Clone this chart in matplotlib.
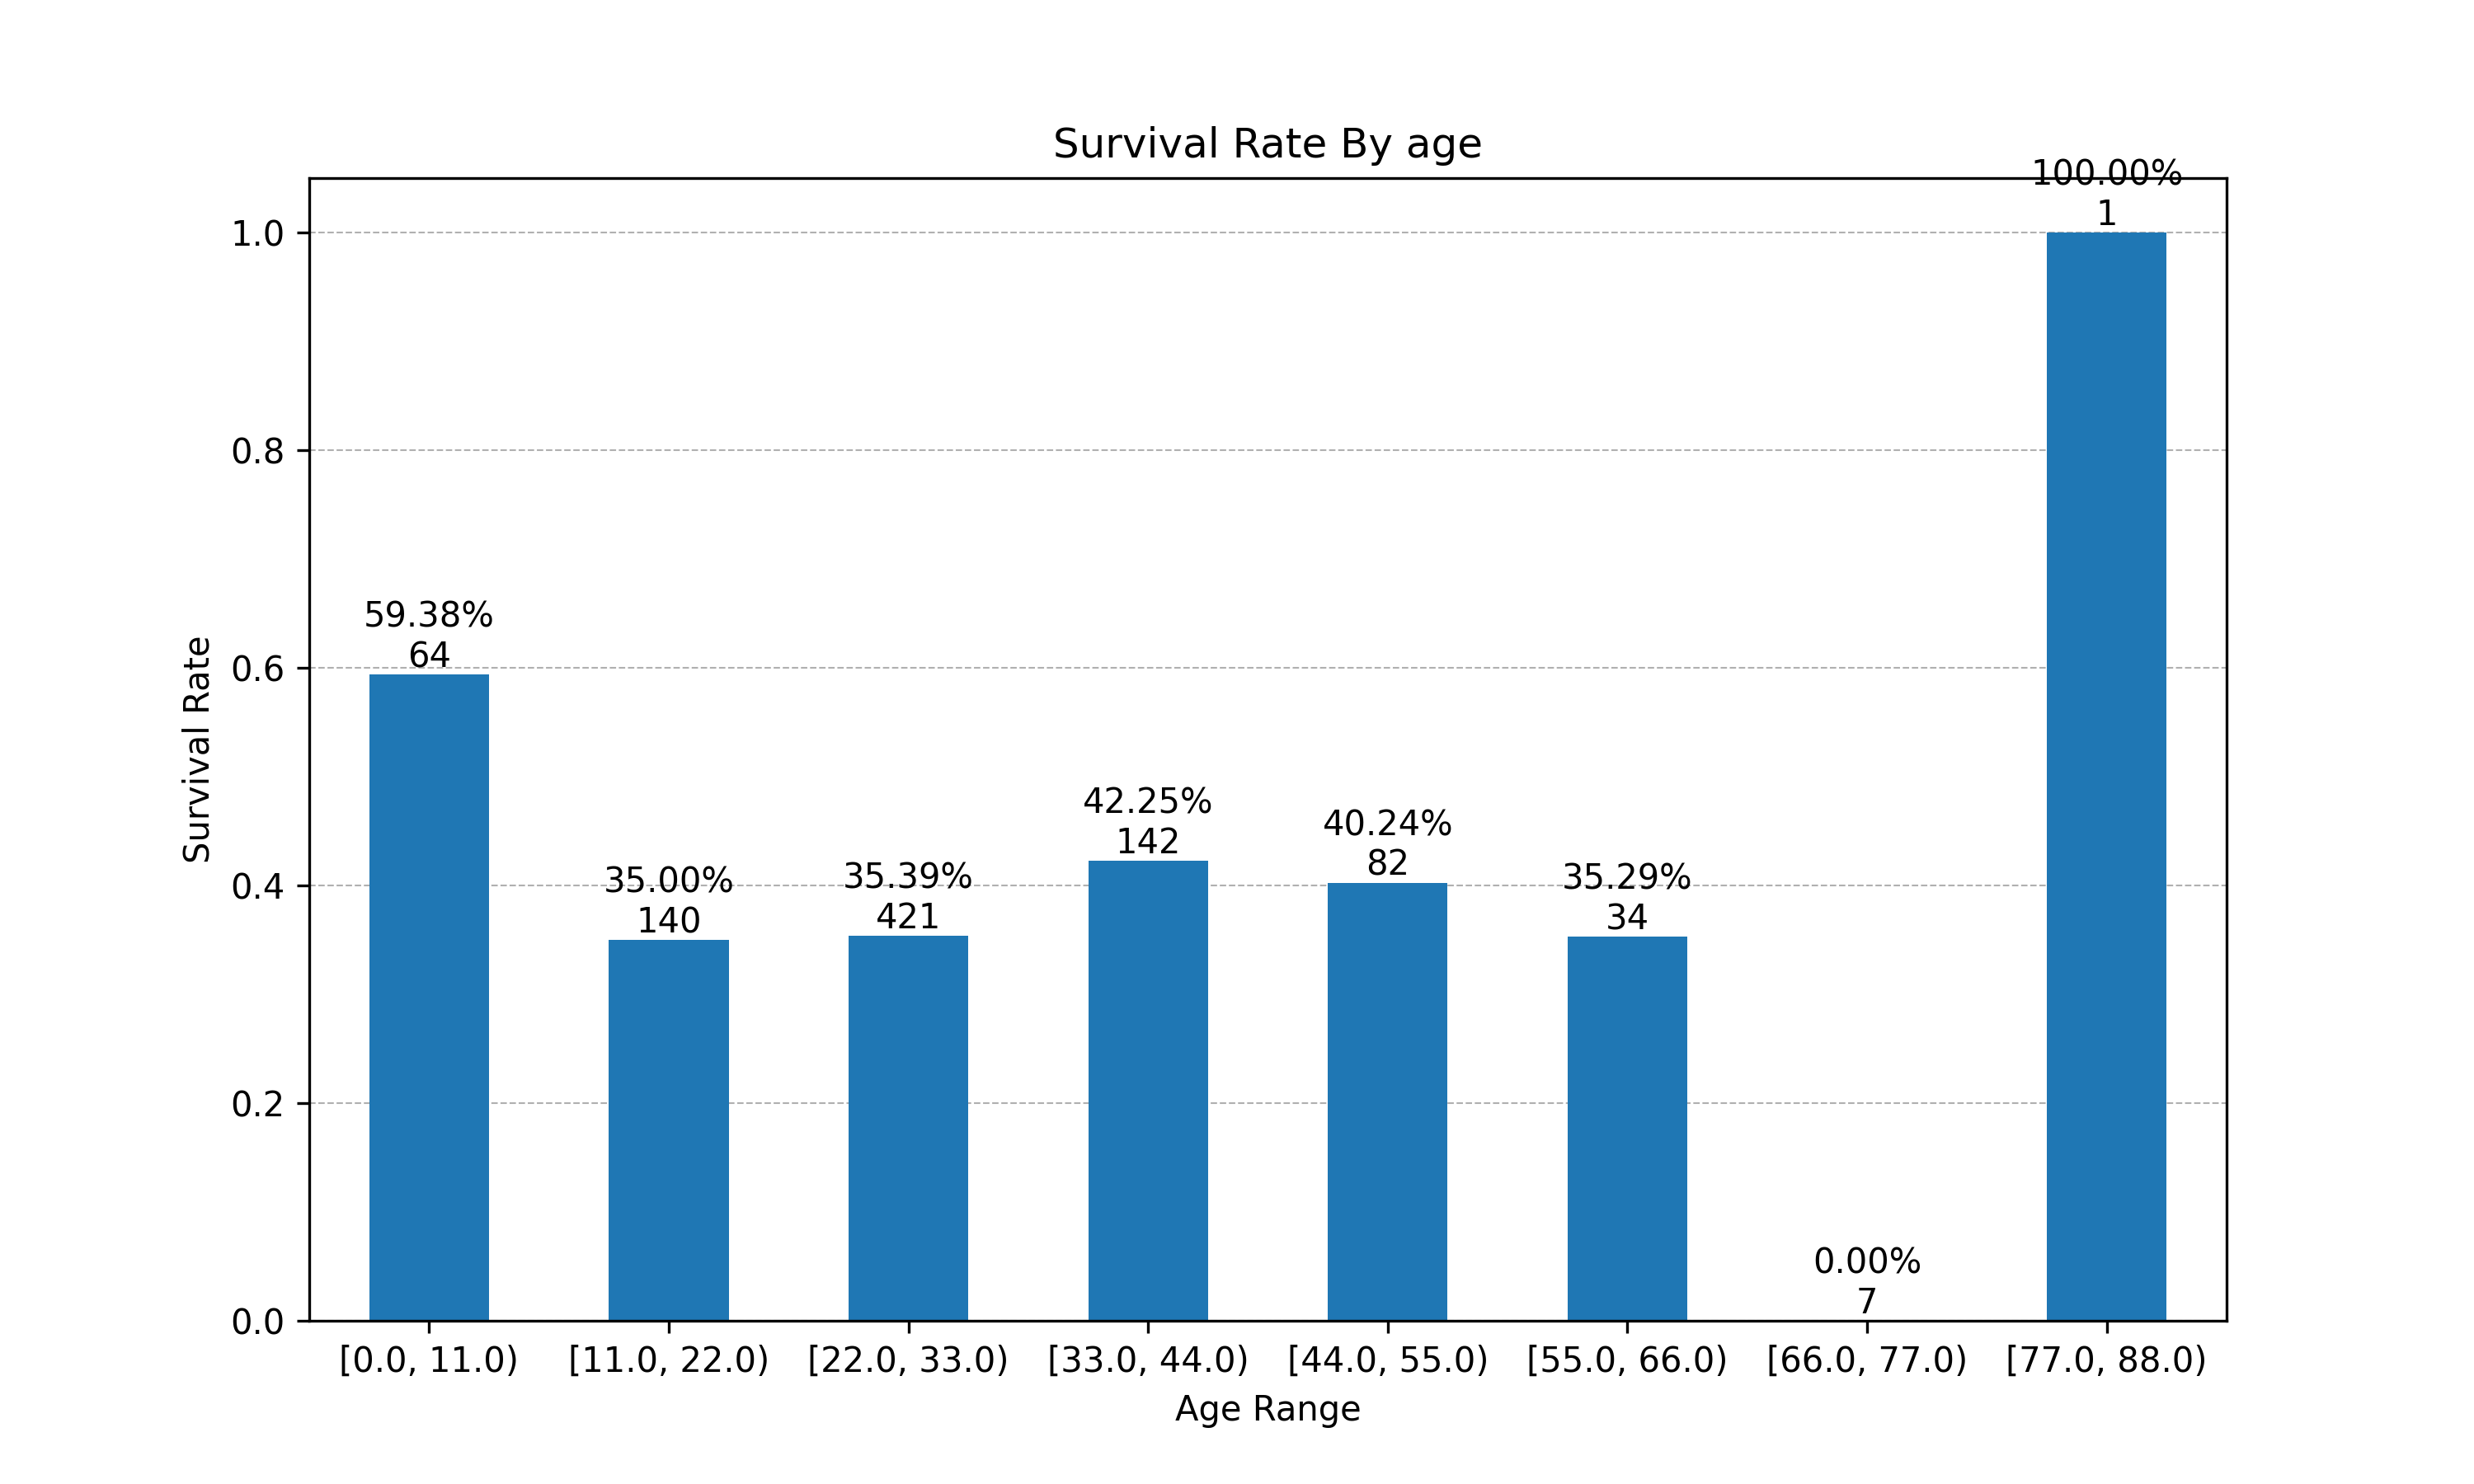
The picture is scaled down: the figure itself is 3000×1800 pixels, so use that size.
import matplotlib
matplotlib.use('Agg')
import matplotlib.pyplot as plt
import numpy as np

# Age bins and survival data
age_ranges = ['[0.0, 11.0)', '[11.0, 22.0)', '[22.0, 33.0)', '[33.0, 44.0)',
              '[44.0, 55.0)', '[55.0, 66.0)', '[66.0, 77.0)', '[77.0, 88.0)']
survival_rate = [0.5938, 0.3500, 0.3539, 0.4225, 0.4024, 0.3529, 0.0, 1.0]
counts = [64, 140, 421, 142, 82, 34, 7, 1]

fig, ax = plt.subplots(figsize=(10, 6))
x = np.arange(len(age_ranges))
bars = ax.bar(x, survival_rate, width=0.5, color='#1f77b4')

# Annotate each bar with rate and count
for xi, rate, n in zip(x, survival_rate, counts):
    ax.text(xi, rate, f"{rate * 100:.2f}%\n{n}", ha='center', va='bottom')

ax.set_xticks(x)
ax.set_xticklabels(age_ranges)
ax.set_xlim(-0.5, len(age_ranges) - 0.5)
ax.set_xlabel("Age Range")
ax.set_ylabel("Survival Rate")
ax.set_title("Survival Rate By age")
ax.yaxis.grid(True, linestyle='--', linewidth=0.5, color='#b0b0b0')
ax.set_axisbelow(True)

plt.savefig('out.png', dpi=300)
